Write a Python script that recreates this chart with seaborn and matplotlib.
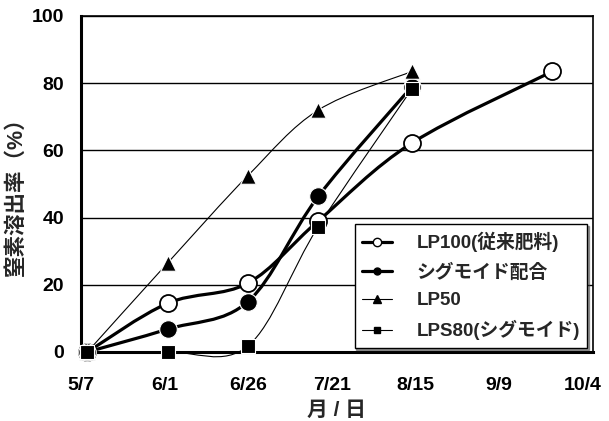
import numpy as np
import pandas as pd
import matplotlib.pyplot as plt
from matplotlib.path import Path
from matplotlib.patches import PathPatch
from matplotlib.lines import Line2D
import seaborn as sns

# sampling dates (month/day) and nitrogen release (%)
sample_dates = ["5/9", "6/2", "6/26", "7/17", "8/14", "9/25"]
lp100 = [0, 14.5, 20.5, 39, 62.2, 83.5]
sigmoid_mix = [0, 6.8, 15, 46.3, 79]
lp50 = [0, 26.5, 52.5, 72, 83.5]
lps80 = [0, 0, 1.8, 37.3, 78.3]

tick_dates = ["5/7", "6/1", "6/26", "7/21", "8/15", "9/9", "10/4"]
series_names = ["LP100(従来肥料)", "シグモイド配合", "LP50", "LPS80(シグモイド)"]

start = pd.Timestamp("2001-05-07")
def to_days(lbls):
    return [(pd.Timestamp("2001/" + d) - start).days for d in lbls]

days = to_days(sample_dates)
tick_days = to_days(tick_dates)

sns.set_theme(style="white")
plt.rcParams["font.family"] = ["Liberation Sans", "Noto Sans CJK JP", "DejaVu Sans"]
plt.rcParams["font.weight"] = "bold"

fig = plt.figure(figsize=(6.09, 4.21), dpi=100)
ax = fig.add_axes([0.1325, 0.164, 0.8405, 0.798])


def smooth_path(x, y):
    # excel-like smoothed line drawn as bezier segments
    p = np.column_stack([x, y]).astype(float)
    q = np.vstack([p[0], p, p[-1]])
    verts = [p[0]]
    codes = [Path.MOVETO]
    for i in range(1, len(q) - 2):
        c1 = q[i] + (q[i + 1] - q[i - 1]) / 6
        c2 = q[i + 1] - (q[i + 2] - q[i]) / 6
        verts += [c1, c2, q[i + 1]]
        codes += [Path.CURVE4] * 3
    return Path(verts, codes)


styles = [
    dict(lw=2.3, marker="o", s=150, fc="white", ec="black", elw=1.3, hs=6),
    dict(lw=2.3, marker="o", s=160, fc="black", ec="white", elw=0.8, hs=5),
    dict(lw=0.8, marker="^", s=125, fc="black", ec="white", elw=0.8, hs=5.5),
    dict(lw=0.8, marker="s", s=95, fc="black", ec="white", elw=0.8, hs=4.5),
]
values = [lp100, sigmoid_mix, lp50, lps80]

for vals, st in zip(values, styles):
    xs = days[:len(vals)]
    ax.add_patch(PathPatch(smooth_path(xs, vals), fill=False, lw=st["lw"],
                           ec="black", zorder=3, capstyle="round", clip_on=False))
for vals, st in zip(values, styles):
    xs = days[:len(vals)]
    sns.scatterplot(x=xs, y=vals, ax=ax, marker=st["marker"], s=st["s"],
                    color=st["fc"], edgecolor=st["ec"], linewidth=st["elw"],
                    zorder=4, legend=False, clip_on=False)

ax.set_xlim(0, 153)
ax.set_ylim(0, 100)
ax.set_xticks(tick_days)
ax.set_xticklabels(tick_dates)
ax.set_yticks(range(0, 101, 20))
ax.yaxis.grid(True, color="black", lw=1)
ax.xaxis.grid(False)
ax.tick_params(axis="both", direction="in", length=5, width=1.5, colors="black",
               labelsize=14)
ax.tick_params(axis="x", pad=18)
ax.tick_params(axis="y", pad=12)
for lab in ax.get_xticklabels() + ax.get_yticklabels():
    lab.set_fontweight("bold")

for side in ["left", "bottom"]:
    ax.spines[side].set_linewidth(2.2)
for side in ["top", "right"]:
    ax.spines[side].set_linewidth(1.2)
for sp in ax.spines.values():
    sp.set_color("black")

ax.set_xlabel("月 / 日", fontsize=15, fontweight="bold")
ax.set_ylabel("窒素溶出率（%）", fontsize=15.5, fontweight="bold")
ax.xaxis.set_label_coords(0.5, -0.145)
ax.yaxis.set_label_coords(-0.105, 0.479)

handles = [Line2D([], [], color="black", lw=st["lw"], marker=st["marker"],
                  markersize=st["hs"], markerfacecolor=st["fc"],
                  markeredgecolor="black", markeredgewidth=1)
           for st in styles]
leg = ax.legend(handles, series_names, loc="lower right",
                bbox_to_anchor=(0.99, 0.012), frameon=True, fancybox=False,
                edgecolor="black", framealpha=1, fontsize=13.5,
                handlelength=1.6, handletextpad=1.3, labelspacing=0.58,
                borderpad=0.4, borderaxespad=0,
                shadow={"ox": 1.2, "oy": -1.2, "color": "0.25"})
leg.get_frame().set_linewidth(1)
for t in leg.get_texts():
    t.set_fontweight("bold")

fig.savefig("out.png", dpi=100)
